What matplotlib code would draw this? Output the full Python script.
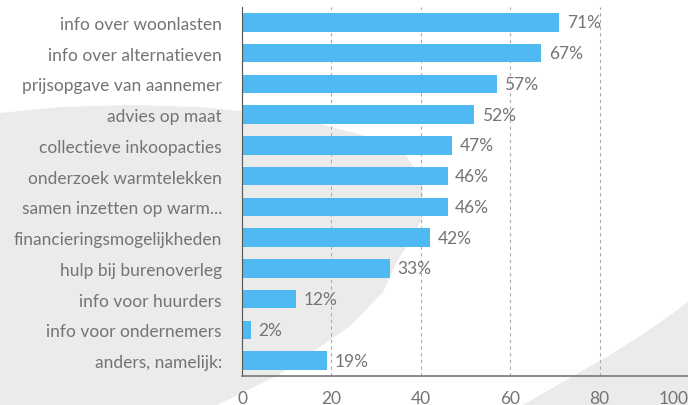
import matplotlib
matplotlib.use("Agg")
import matplotlib.pyplot as plt
from matplotlib.patches import Polygon

categories = [
    "info over woonlasten",
    "info over alternatieven",
    "prijsopgave van aannemer",
    "advies op maat",
    "collectieve inkoopacties",
    "onderzoek warmtelekken",
    "samen inzetten op warm...",
    "financieringsmogelijkheden",
    "hulp bij burenoverleg",
    "info voor huurders",
    "info voor ondernemers",
    "anders, namelijk:",
]
values = [71, 67, 57, 52, 47, 46, 46, 42, 33, 12, 2, 19]
xticks = [0, 20, 40, 60, 80, 100]

plt.rcParams['font.family'] = ['Lato', 'DejaVu Sans']

W, H = 688, 406
fig = plt.figure(figsize=(W / 100, H / 100), dpi=100)

# background decoration (light gray swooshes) in pixel coords
def px(pts):
    return [(x / W, 1 - y / H) for x, y in pts]

bg = fig.add_axes([0, 0, 1, 1], zorder=0)
bg.set_xlim(0, 1); bg.set_ylim(0, 1); bg.axis('off')
left_shape = px([(0, 114), (60, 108), (130, 106), (200, 108), (260, 114),
                 (320, 125), (370, 138), (405, 155), (422, 180), (424, 215),
                 (412, 240), (397, 262), (383, 293), (350, 327), (317, 350),
                 (277, 377), (250, 390), (217, 406), (0, 406)])
bg.add_patch(Polygon(left_shape, closed=True, facecolor='#ebebeb', edgecolor='none'))
right_shape = px([(523, 406), (573, 377), (610, 356), (640, 337),
                  (665, 320), (688, 303), (688, 406)])
bg.add_patch(Polygon(right_shape, closed=True, facecolor='#ebebeb', edgecolor='none'))

ax = fig.add_axes([242 / W, 1 - 377 / H, 447 / W, (377 - 8) / H], zorder=1)
ax.patch.set_alpha(0)

txt_color = '#747474'
y = list(range(len(categories)))
ax.barh(y, values, height=0.6, color='#4fb9f2', zorder=2)
ax.set_ylim(len(categories) - 0.5, -0.5)
ax.set_xlim(0, 100)
ax.set_yticks(y)
ax.set_yticklabels(categories, fontsize=12.5, color=txt_color)
ax.set_xticks(xticks)
xlabels = ax.set_xticklabels([str(t) for t in xticks], fontsize=12.5, color=txt_color)
xlabels[-1].set_horizontalalignment('right')
ax.tick_params(axis='both', length=0)
ax.tick_params(axis='x', pad=10)
ax.tick_params(axis='y', pad=14.5)

for v, yy in zip(values, y):
    ax.text(v + 1.7, yy, f"{v}%", va='center', ha='left', fontsize=12.5,
            color=txt_color, zorder=3)

ax.grid(axis='x', linestyle=(0, (3, 3)), color='#aaaaaa', linewidth=0.8, zorder=1)
for s in ['top', 'right']:
    ax.spines[s].set_visible(False)
ax.spines['left'].set_color('#555555')
ax.spines['bottom'].set_color('#777777')
ax.spines['bottom'].set_linewidth(1.2)

fig.savefig('out.png', dpi=100)
